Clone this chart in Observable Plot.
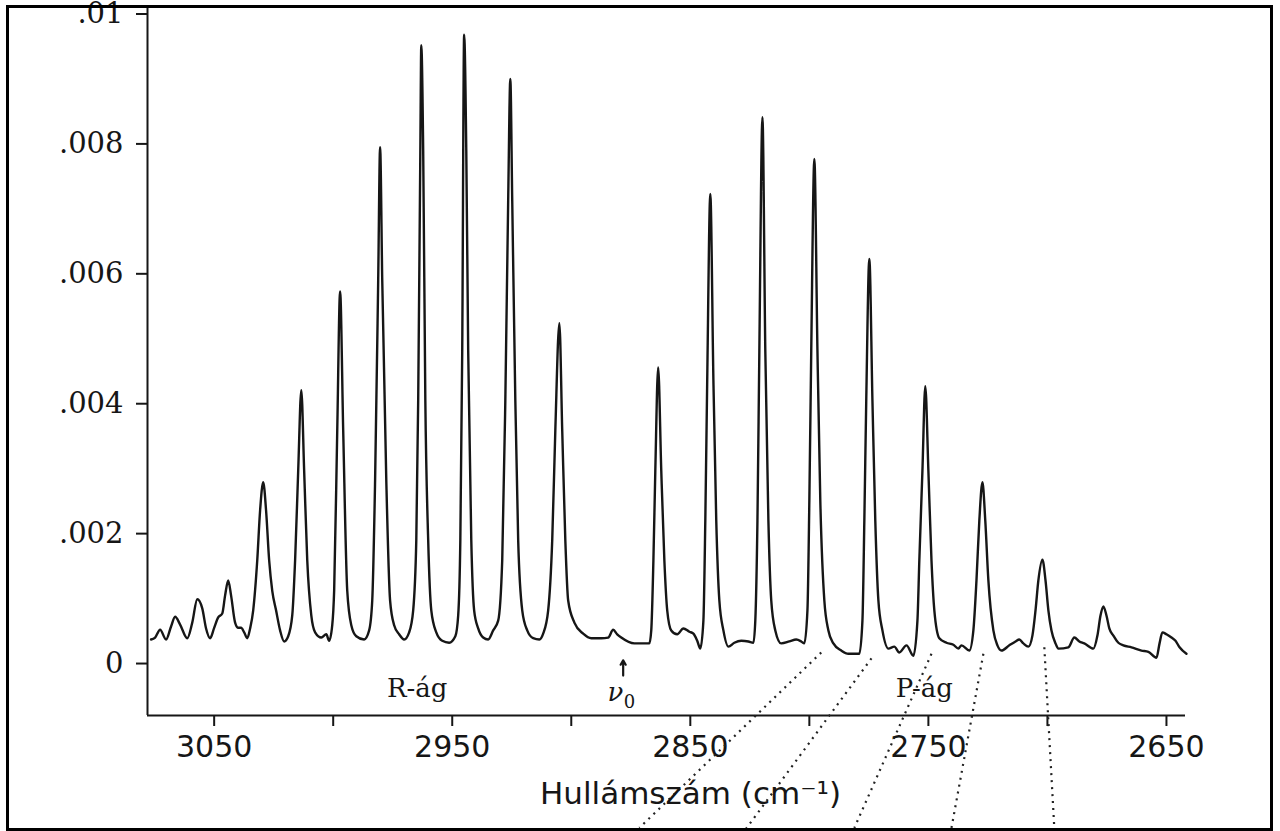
<!DOCTYPE html>
<html><head><meta charset="utf-8">
<script src="https://cdn.jsdelivr.net/npm/d3@7"></script>
<script src="https://cdn.jsdelivr.net/npm/@observablehq/plot@0.6"></script>
<style>
html,body{margin:0;padding:0;background:#fff;}
#wrap{position:relative;width:1280px;height:831px;overflow:hidden;background:#fff;}
#border{position:absolute;left:6px;top:5px;width:1267px;height:826px;box-sizing:border-box;border:3px solid #000;pointer-events:none;}
svg{display:block;}
</style></head><body>
<div id="wrap"><div id="chart"></div><div id="border"></div></div>
<script>
// Spectrum (wavenumber in cm^-1, absorbance)
const wavenumber = [3076.5,3074.8,3072.7,3070.2,3068.1,3066.4,3064.3,3061.3,3059.2,3057.1,3055.0,3053.4,3051.7,3050.0,3048.3,3046.6,3045.4,3044.1,3042.9,3041.2,3039.9,3038.7,3037.4,3036.1,3034.9,3033.6,3031.9,3030.7,3029.4,3028.2,3026.9,3025.6,3024.0,3022.3,3020.6,3018.9,3017.2,3016.0,3014.7,3013.4,3012.2,3010.9,3009.2,3007.6,3005.0,3002.9,3001.7,3000.4,2999.6,2998.3,2997.1,2995.8,2994.1,2992.4,2990.3,2987.0,2984.9,2983.6,2982.4,2981.1,2980.3,2979.4,2977.7,2976.1,2974.4,2972.3,2970.2,2968.1,2966.4,2965.1,2964.3,2963.4,2963.0,2962.2,2961.3,2960.1,2958.8,2956.7,2954.2,2951.3,2948.7,2947.5,2946.6,2945.8,2945.0,2944.1,2943.3,2942.0,2940.8,2939.1,2937.0,2934.9,2932.8,2930.7,2929.0,2927.7,2926.5,2925.6,2924.8,2923.5,2922.3,2920.6,2918.5,2916.0,2913.4,2911.8,2909.7,2908.0,2906.7,2905.0,2903.8,2902.5,2901.3,2898.7,2895.0,2891.6,2887.4,2884.5,2882.4,2880.7,2879.0,2873.5,2867.2,2866.4,2865.5,2864.7,2863.5,2862.2,2860.9,2859.7,2858.0,2855.5,2852.9,2850.4,2848.7,2847.1,2845.8,2844.5,2843.7,2842.9,2841.6,2840.3,2839.1,2837.8,2836.1,2834.0,2831.5,2828.6,2825.6,2823.5,2822.7,2821.8,2821.0,2819.7,2818.5,2817.2,2816.0,2814.3,2811.8,2808.4,2805.5,2803.4,2802.1,2800.8,2800.0,2799.2,2797.9,2796.6,2795.4,2793.7,2792.0,2789.9,2786.6,2783.6,2779.0,2777.7,2776.9,2776.1,2774.8,2773.5,2772.3,2771.0,2769.3,2766.8,2764.3,2762.2,2759.2,2756.3,2754.6,2753.8,2752.5,2751.3,2750.0,2748.7,2747.5,2745.4,2742.4,2739.5,2737.4,2736.1,2732.8,2731.1,2729.8,2728.6,2727.3,2726.1,2724.8,2722.7,2721.0,2719.3,2716.0,2713.4,2711.8,2710.1,2708.0,2706.3,2705.0,2703.8,2702.1,2700.8,2699.6,2698.3,2696.6,2695.4,2691.2,2688.7,2686.6,2684.5,2680.7,2679.0,2677.7,2676.5,2675.2,2674.0,2672.3,2670.2,2668.1,2664.7,2660.5,2657.6,2654.2,2652.9,2651.7,2650.0,2647.9,2646.2,2644.5,2641.6];
const absorbance = [0.00037,0.00040,0.00052,0.00037,0.00057,0.00072,0.00060,0.00039,0.00063,0.00099,0.00085,0.00054,0.00039,0.00055,0.00071,0.00077,0.00105,0.00128,0.00105,0.00063,0.00055,0.00055,0.00048,0.00039,0.00054,0.00082,0.00159,0.00236,0.00279,0.00236,0.00159,0.00112,0.00082,0.00051,0.00034,0.00042,0.00074,0.00159,0.00297,0.00421,0.00297,0.00159,0.00074,0.00048,0.00040,0.00045,0.00035,0.00059,0.00112,0.00359,0.00573,0.00359,0.00112,0.00059,0.00042,0.00037,0.00051,0.00097,0.00282,0.00590,0.00795,0.00590,0.00282,0.00097,0.00059,0.00045,0.00037,0.00048,0.00082,0.00190,0.00405,0.00790,0.00952,0.00790,0.00405,0.00190,0.00082,0.00048,0.00035,0.00032,0.00042,0.00074,0.00190,0.00482,0.00968,0.00790,0.00482,0.00190,0.00082,0.00054,0.00040,0.00037,0.00051,0.00066,0.00159,0.00405,0.00713,0.00900,0.00713,0.00405,0.00190,0.00082,0.00051,0.00039,0.00037,0.00046,0.00082,0.00190,0.00359,0.00524,0.00359,0.00190,0.00097,0.00063,0.00046,0.00039,0.00039,0.00040,0.00052,0.00045,0.00040,0.00031,0.00031,0.00051,0.00159,0.00297,0.00456,0.00297,0.00159,0.00082,0.00051,0.00045,0.00054,0.00049,0.00046,0.00035,0.00023,0.00066,0.00220,0.00436,0.00723,0.00436,0.00220,0.00097,0.00051,0.00026,0.00032,0.00035,0.00034,0.00032,0.00066,0.00220,0.00482,0.00841,0.00482,0.00220,0.00097,0.00051,0.00031,0.00034,0.00037,0.00034,0.00031,0.00082,0.00251,0.00482,0.00777,0.00482,0.00251,0.00097,0.00051,0.00031,0.00020,0.00015,0.00015,0.00066,0.00220,0.00405,0.00623,0.00405,0.00220,0.00097,0.00051,0.00023,0.00026,0.00017,0.00028,0.00012,0.00066,0.00159,0.00297,0.00427,0.00297,0.00159,0.00082,0.00039,0.00032,0.00029,0.00023,0.00028,0.00020,0.00051,0.00128,0.00220,0.00279,0.00220,0.00128,0.00051,0.00028,0.00020,0.00028,0.00034,0.00037,0.00031,0.00026,0.00043,0.00082,0.00128,0.00160,0.00128,0.00082,0.00051,0.00031,0.00023,0.00025,0.00040,0.00034,0.00031,0.00023,0.00043,0.00074,0.00088,0.00074,0.00054,0.00043,0.00032,0.00028,0.00025,0.00020,0.00018,0.00009,0.00031,0.00048,0.00045,0.00040,0.00035,0.00025,0.00015];

// Axes
const xDomain = [3078, 2642];
const yDomain = [-0.0008, 0.0101];
const xTicks = [3050, 3000, 2950, 2900, 2850, 2800, 2750, 2700, 2650];
const xTickLabels = ["3050", "", "2950", "", "2850", "", "2750", "", "2650"];
const yTicks = [0, 0.002, 0.004, 0.006, 0.008, 0.01];
const yTickLabels = ["0", ".002", ".004", ".006", ".008", ".01"];
const xTitle = "Hullámszám (cm⁻¹)";

// Annotations
const branchLabels = ["R-ág", "P-ág"];
const branchX = [2964.7, 2751.7];
const branchY = [-0.00052, -0.00052];
const nuLabel = "ν", nuSub = "0";
const nuX = 2881.5, nuY = -0.00057;
const nuSubX = 2875.6, nuSubY = -0.00068;
const arrowX = 2878.2, arrowY1 = -0.000185, arrowY2 = 0.00005;

// Dotted guide lines leaving the P-branch toward the bottom edge
const guideX1 = [2795.0, 2773.9, 2748.7, 2726.9, 2701.3];
const guideY1 = [0.00017, 0.00008, 0.00015, 0.00015, 0.00025];
const guideX2 = [2871.4, 2826.5, 2781.1, 2740.3, 2697.1];
const guideY2 = [-0.00253, -0.00254, -0.00253, -0.00253, -0.00254];

const spectrum = wavenumber.map((w, i) => ({w, a: absorbance[i]}));
const guides = guideX1.map((x1, i) => ({x1, y1: guideY1[i], x2: guideX2[i], y2: guideY2[i]}));
const ink = "#161616";

const chart = Plot.plot({
  width: 1280, height: 831,
  marginLeft: 147, marginRight: 95, marginTop: 7, marginBottom: 116,
  x: {domain: xDomain, axis: null},
  y: {domain: yDomain, axis: null},
  style: {background: "transparent", color: ink, overflow: "visible"},
  marks: [
    Plot.ruleX([xDomain[0]], {y1: yDomain[0], y2: yDomain[1], stroke: ink, strokeWidth: 2}),
    Plot.ruleY([yDomain[0]], {x1: xDomain[0], x2: xDomain[1], stroke: ink, strokeWidth: 2}),
    Plot.axisY(yTicks, {anchor: "left", tickSize: 11, tickPadding: 13, strokeWidth: 2,
      tickFormat: d => yTickLabels[yTicks.indexOf(d)], fontSize: 29, fontFamily: "DejaVu Serif", label: null}),
    Plot.axisX(xTicks, {anchor: "bottom", tickSize: 11, tickPadding: 9, strokeWidth: 2,
      tickFormat: d => xTickLabels[xTicks.indexOf(d)], fontSize: 30, fontFamily: "DejaVu Sans", label: null}),
    Plot.line(spectrum, {x: "w", y: "a", curve: "monotone-x", stroke: ink, strokeWidth: 2.4}),
    Plot.link(guides, {x1: "x1", y1: "y1", x2: "x2", y2: "y2", stroke: "#222", strokeWidth: 2.2, strokeDasharray: "2,5"}),
    Plot.text(branchLabels, {x: (d, i) => branchX[i], y: (d, i) => branchY[i], text: d => d,
      fontFamily: "DejaVu Serif", fontSize: 26, lineAnchor: "bottom", textAnchor: "middle", fill: ink}),
    Plot.arrow([0], {x1: arrowX, y1: arrowY1, x2: arrowX, y2: arrowY2, headLength: 9, strokeWidth: 2.2, stroke: ink}),
    Plot.text([nuLabel], {x: nuX, y: nuY, text: d => d, fontFamily: "DejaVu Serif", fontStyle: "italic",
      fontSize: 26, lineAnchor: "bottom", fill: ink}),
    Plot.text([nuSub], {x: nuSubX, y: nuSubY, text: d => d, fontFamily: "DejaVu Serif",
      fontSize: 18, lineAnchor: "bottom", fill: ink}),
    Plot.text([xTitle], {frameAnchor: "bottom", dx: 24, dy: 88, text: d => d, fontFamily: "DejaVu Sans",
      fontSize: 31, lineAnchor: "bottom", fill: ink})
  ]
});
document.getElementById("chart").appendChild(chart);
</script>
</body></html>
